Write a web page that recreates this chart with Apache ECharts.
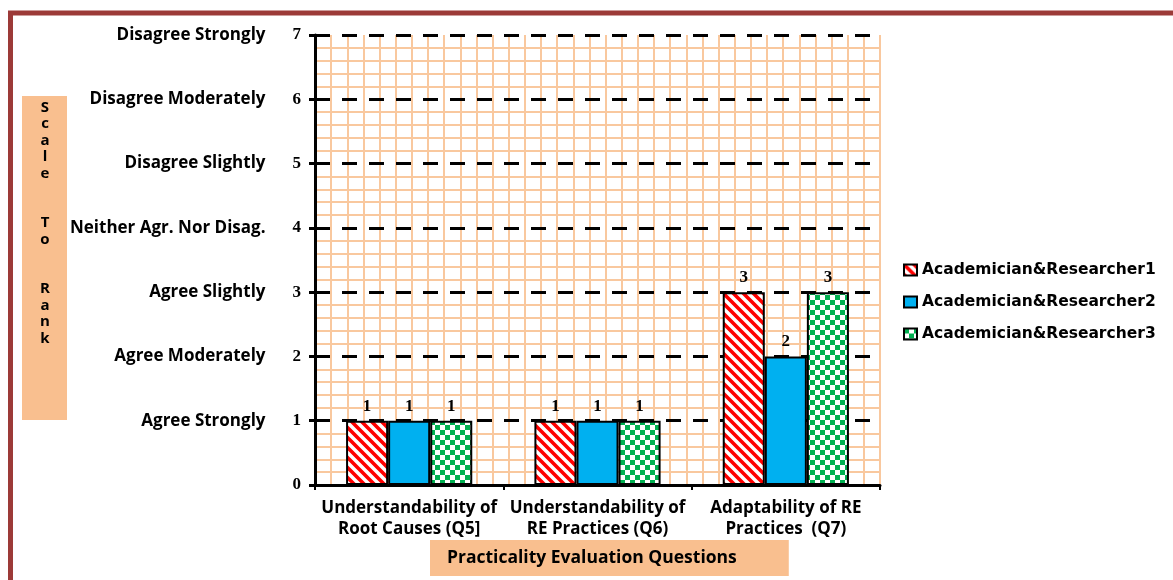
<!DOCTYPE html>
<html>
<head>
<meta charset="utf-8">
<script src="https://cdn.jsdelivr.net/npm/echarts@6/dist/echarts.min.js"></script>
<style>
  html, body { margin: 0; padding: 0; background: #fff; }
  #chart { width: 1173px; height: 580px; }
</style>
</head>
<body>
<div id="chart"></div>
<script>
// Questions on the horizontal axis
const categories = [
  'Understandability of\nRoot Causes (Q5]',
  'Understandability of\nRE Practices (Q6)',
  'Adaptability of RE\nPractices  (Q7)'
];

// Likert scale wording for each rank value (index = rank)
const scaleLabels = [
  '',
  'Agree Strongly',
  'Agree Moderately',
  'Agree Slightly',
  'Neither Agr. Nor Disag.',
  'Disagree Slightly',
  'Disagree Moderately',
  'Disagree Strongly'
];

const seriesNames = [
  'Academician&Researcher1',
  'Academician&Researcher2',
  'Academician&Researcher3'
];

// Ranks given by each respondent
const researcher1 = [1, 1, 3];
const researcher2 = [1, 1, 2];
const researcher3 = [1, 1, 3];

// Fill patterns for the bars
function stripeTile() {
  const c = document.createElement('canvas');
  c.width = 10; c.height = 10;
  const g = c.getContext('2d');
  g.fillStyle = '#ffffff';
  g.fillRect(0, 0, 10, 10);
  g.strokeStyle = '#FF0000';
  g.lineWidth = 3.6;
  g.beginPath();
  g.moveTo(-5, -5); g.lineTo(15, 15);
  g.moveTo(-5, 5);  g.lineTo(5, 15);
  g.moveTo(5, -5);  g.lineTo(15, 5);
  g.stroke();
  return c;
}
function checkerTile() {
  const c = document.createElement('canvas');
  c.width = 10; c.height = 10;
  const g = c.getContext('2d');
  g.fillStyle = '#ffffff';
  g.fillRect(0, 0, 10, 10);
  g.fillStyle = '#00B050';
  g.fillRect(0, 0, 5, 5);
  g.fillRect(5, 5, 5, 5);
  return c;
}

const fills = [
  { image: stripeTile(), repeat: 'repeat' },
  '#00B0F0',
  { image: checkerTile(), repeat: 'repeat' }
];
const values = [researcher1, researcher2, researcher3];

const gridOrange = '#F9C89E';
const boxOrange = '#F9BF8F';
const labelFont = 'Open Sans';

const chart = echarts.init(document.getElementById('chart'), null, { renderer: 'canvas' });

chart.setOption({
  backgroundColor: '#ffffff',
  animation: false,
  title: {
    text: 'Practicality Evaluation Questions',
    left: 430,
    top: 540,
    backgroundColor: boxOrange,
    padding: [9, 52, 9, 17],
    textStyle: { fontFamily: labelFont, fontWeight: 'bold', fontSize: 17.5, color: '#000' }
  },
  grid: { left: 315, right: 293, top: 35, bottom: 95, containLabel: false },
  legend: {
    orient: 'vertical',
    left: 898,
    top: 257,
    itemWidth: 13,
    itemHeight: 11,
    itemGap: 16,
    icon: 'rect',
    data: seriesNames,
    textStyle: { fontFamily: 'DejaVu Sans', fontWeight: 'bold', fontSize: 15.5, color: '#000' }
  },
  xAxis: [
    {
      type: 'category',
      data: categories,
      z: 2,
      axisLine: { lineStyle: { color: '#000', width: 3 } },
      axisTick: { show: true, length: 5, lineStyle: { color: '#000', width: 2 } },
      axisLabel: {
        margin: 13,
        fontFamily: labelFont,
        fontWeight: 'bold',
        fontSize: 17,
        lineHeight: 21,
        color: '#000',
        interval: 0
      },
      splitLine: { show: false }
    },
    {
      // fine vertical grid
      type: 'value',
      min: 0,
      max: 35,
      interval: 1,
      z: 0,
      axisLine: { show: false },
      axisTick: { show: false },
      axisLabel: { show: false },
      splitLine: { show: true, lineStyle: { color: gridOrange, width: 2 } }
    }
  ],
  yAxis: {
    type: 'value',
    min: 0,
    max: 7,
    interval: 1,
    z: 2,
    axisLine: { show: true, lineStyle: { color: '#000', width: 3 } },
    axisTick: { show: true, length: 6, lineStyle: { color: '#000', width: 3 } },
    splitLine: { show: true, lineStyle: { color: '#000', width: 3, type: [15, 12] } },
    minorTick: { show: false, splitNumber: 5 },
    minorSplitLine: { show: true, lineStyle: { color: gridOrange, width: 2 } },
    axisLabel: {
      margin: 14,
      formatter: v => v === 0 ? '{v|0}' : '{n|' + scaleLabels[v] + '}{v|' + v + '}',
      rich: {
        n: { fontFamily: labelFont, fontWeight: 'bold', fontSize: 17, color: '#000', padding: [0, 27, 0, 0] },
        v: { fontFamily: 'Liberation Serif', fontWeight: 'bold', fontSize: 17, color: '#000' }
      }
    }
  },
  series: seriesNames.map((name, i) => ({
    name: name,
    type: 'bar',
    xAxisIndex: 0,
    data: values[i],
    barGap: '0%',
    barCategoryGap: '33%',
    z: 3,
    itemStyle: { color: fills[i], borderColor: '#000', borderWidth: 2 },
    label: {
      show: true,
      position: 'top',
      distance: 6,
      fontFamily: 'Liberation Serif',
      fontWeight: 'bold',
      fontSize: 17,
      color: '#000'
    }
  })),
  graphic: [
    {
      type: 'rect',
      silent: true,
      z: 100,
      shape: { x: 10.5, y: 13, width: 1400, height: 800 },
      style: { fill: 'none', stroke: '#9C3A38', lineWidth: 5 }
    },
    {
      type: 'rect',
      silent: true,
      shape: { x: 22, y: 96, width: 45, height: 324 },
      style: { fill: boxOrange }
    },
    {
      type: 'text',
      silent: true,
      x: 45,
      y: 99,
      style: {
        text: 'S\nc\na\nl\ne\n\n\nT\no\n\n\nR\na\nn\nk',
        font: 'bold 15px "Open Sans"',
        fill: '#000',
        align: 'center',
        verticalAlign: 'top',
        lineHeight: 16.5
      }
    }
  ]
});
</script>
</body>
</html>
